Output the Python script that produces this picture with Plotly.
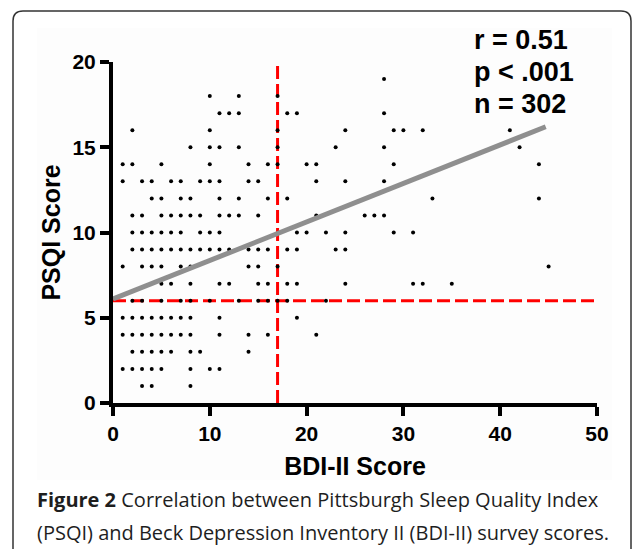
import plotly.graph_objects as go

bdi_psqi_19 = [28]
bdi_psqi_18 = [10, 13, 17]
bdi_psqi_17 = [11, 12, 13, 18, 19, 28]
bdi_psqi_16 = [2, 10, 17, 24, 29, 30, 32, 41]
bdi_psqi_15 = [8, 10, 11, 13, 17, 23, 28, 42]
bdi_psqi_14 = [1, 2, 5, 10, 14, 16, 17, 20, 21, 29, 44]
bdi_psqi_13 = [1, 3, 4, 6, 7, 9, 10, 11, 14, 15, 21, 24, 28]
bdi_psqi_12 = [4, 5, 7, 8, 11, 13, 16, 18, 33, 44]
bdi_psqi_11 = [2, 3, 5, 6, 7, 8, 9, 11, 12, 13, 15, 21, 26, 27, 28]
bdi_psqi_10 = [2, 3, 4, 5, 6, 7, 9, 10, 11, 19, 20, 22, 24, 29, 31]
bdi_psqi_9 = [2, 3, 4, 5, 6, 7, 8, 9, 10, 11, 12, 14, 15, 16, 18, 19, 23, 24]
bdi_psqi_8 = [1, 3, 4, 5, 7, 8, 14, 15, 17, 45]
bdi_psqi_7 = [5, 6, 8, 11, 12, 15, 16, 18, 19, 24, 31, 32, 35]
bdi_psqi_6 = [2, 3, 5, 7, 8, 10, 13, 15, 16, 17, 18, 22]
bdi_psqi_5 = [1, 2, 3, 4, 5, 6, 7, 8, 11, 19]
bdi_psqi_4 = [1, 2, 3, 4, 5, 6, 7, 8, 11, 14, 16, 21]
bdi_psqi_3 = [2, 3, 4, 5, 6, 8, 9, 14]
bdi_psqi_2 = [1, 2, 3, 4, 5, 8, 10, 11]
bdi_psqi_1 = [3, 4, 8]

psqi_levels = [19, 18, 17, 16, 15, 14, 13, 12, 11, 10, 9, 8, 7, 6, 5, 4, 3, 2, 1]
bdi_lists = [bdi_psqi_19, bdi_psqi_18, bdi_psqi_17, bdi_psqi_16, bdi_psqi_15,
             bdi_psqi_14, bdi_psqi_13, bdi_psqi_12, bdi_psqi_11, bdi_psqi_10,
             bdi_psqi_9, bdi_psqi_8, bdi_psqi_7, bdi_psqi_6, bdi_psqi_5,
             bdi_psqi_4, bdi_psqi_3, bdi_psqi_2, bdi_psqi_1]

# regression line and cut-offs
reg_x = [0, 44.7]
reg_y = [6.1, 16.2]
bdi_cutoff = 17
psqi_cutoff = 6

x_ticks = [0, 10, 20, 30, 40, 50]
y_ticks = [0, 5, 10, 15, 20]
stats_lines = ["r = 0.51", "p &lt; .001", "n = 302"]
caption_lines = ["<b>Figure 2</b> Correlation between Pittsburgh Sleep Quality Index",
                 "(PSQI) and Beck Depression Inventory II (BDI-II) survey scores."]

xs, ys = [], []
for lvl, lst in zip(psqi_levels, bdi_lists):
    for b in lst:
        xs.append(b)
        ys.append(lvl)

W, H = 632, 549
L, R, T, B = 113, 35, 62, 146
PW, PH = W - L - R, H - T - B


def px2x(p):
    return (p - L) / PW


def px2y(p):
    return (H - B - p) / PH


fig = go.Figure()
fig.add_trace(go.Scatter(x=[bdi_cutoff, bdi_cutoff], y=[0, 20], mode="lines",
                         line=dict(color="#ff0000", width=3, dash="13px,5px"),
                         hoverinfo="skip", showlegend=False, cliponaxis=False))
fig.add_trace(go.Scatter(x=[0, 50], y=[psqi_cutoff, psqi_cutoff], mode="lines",
                         line=dict(color="#ff0000", width=3, dash="13px,5px"),
                         hoverinfo="skip", showlegend=False, cliponaxis=False))
fig.add_trace(go.Scatter(x=xs, y=ys, mode="markers",
                         marker=dict(color="black", size=4),
                         showlegend=False, cliponaxis=False))
fig.add_trace(go.Scatter(x=reg_x, y=reg_y, mode="lines",
                         line=dict(color="#8f8f8f", width=5),
                         showlegend=False, cliponaxis=False))

# panel background and rounded border
shapes = [
    dict(type="rect", xref="paper", yref="paper", layer="below",
         x0=px2x(37), x1=px2x(612), y0=px2y(480), y1=px2y(28),
         fillcolor="#fdfdfd", line=dict(width=0)),
]
r = 10
bx0, by0, bx1, by_bot = 13, 11, 631, 560
path = (f"M {px2x(bx0)} {px2y(by_bot)} L {px2x(bx0)} {px2y(by0 + r)} "
        f"Q {px2x(bx0)} {px2y(by0)} {px2x(bx0 + r)} {px2y(by0)} "
        f"L {px2x(bx1 - r)} {px2y(by0)} "
        f"Q {px2x(bx1)} {px2y(by0)} {px2x(bx1)} {px2y(by0 + r)} "
        f"L {px2x(bx1)} {px2y(by_bot)}")
shapes.append(dict(type="path", xref="paper", yref="paper", path=path,
                   line=dict(color="#333333", width=1.5), layer="below"))

annotations = []
for i, t in enumerate(stats_lines):
    annotations.append(dict(text=t, xref="paper", yref="paper",
                            x=px2x(472), y=px2y(40 + 32 * i),
                            xanchor="left", yanchor="middle", showarrow=False,
                            font=dict(family="Liberation Sans", size=27,
                                      color="black", weight="bold")))
for i, t in enumerate(caption_lines):
    annotations.append(dict(text=t, xref="paper", yref="paper",
                            x=px2x(35), y=px2y(499 + 33 * i),
                            xanchor="left", yanchor="middle", showarrow=False,
                            font=dict(family="Open Sans", size=20, color="#1e1e1e")))

axis_font = dict(family="Liberation Sans", size=21, color="black", weight="bold")
title_font = dict(family="Liberation Sans", size=25, color="black", weight="bold")

fig.update_layout(
    width=W, height=H,
    margin=dict(l=L, r=R, t=T, b=B),
    paper_bgcolor="white", plot_bgcolor="rgba(0,0,0,0)",
    shapes=shapes, annotations=annotations,
    xaxis=dict(range=[0, 50], tickvals=x_ticks, showgrid=False, zeroline=False,
               showline=True, linecolor="black", linewidth=4,
               ticks="outside", ticklen=9, tickwidth=4, tickcolor="black",
               tickfont=axis_font,
               title=dict(text="BDI-II Score", font=title_font, standoff=14)),
    yaxis=dict(range=[0, 20], tickvals=y_ticks, showgrid=False, zeroline=False,
               showline=True, linecolor="black", linewidth=4,
               ticks="outside", ticklen=9, tickwidth=4, tickcolor="black",
               tickfont=axis_font,
               title=dict(text="PSQI Score", font=title_font, standoff=6)),
)

fig.write_html("out.html", config={"displayModeBar": False})

# remove the default page margin so the figure sits at the window's top-left
with open("out.html", "r", encoding="utf-8") as f:
    html = f.read()
html = html.replace("<body>", '<body style="margin:0;padding:0;overflow:hidden">', 1)
html = html.replace("<head>", '<head><style>html,body{margin:0;padding:0;}</style>', 1)
with open("out.html", "w", encoding="utf-8") as f:
    f.write(html)
